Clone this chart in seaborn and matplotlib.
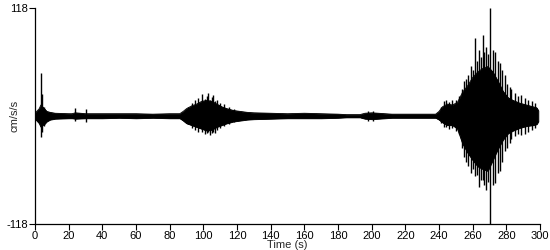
import matplotlib
matplotlib.use("Agg")
import matplotlib.pyplot as plt
import seaborn as sns
import numpy as np
import pandas as pd

# Envelope of the accelerogram (time s, upper / lower cm/s/s)
env_t = [0, 1, 2.5, 3.5, 4.5, 5.5, 7, 9, 12, 20, 22, 24, 30, 40, 50, 60, 70, 80, 86,
         88, 90, 93, 96, 99, 102, 105, 108, 111, 114, 118, 122, 126, 130, 140, 150,
         160, 170, 180, 185, 193, 196, 200, 204, 208, 212, 238, 240, 242, 245, 248,
         251, 254, 257, 260, 263, 266, 269, 272, 275, 278, 281, 284, 288, 292, 296,
         298, 299]
env_hi = [3, 5, 8, 12, 10, 8, 5, 4, 3, 2.5, 2.5, 3.5, 2.5, 2.5, 2.5, 2.5, 2, 2.5, 2.5,
          5, 8, 11, 13, 16, 17, 16, 13, 10, 8, 6, 5, 4, 3.5, 3, 2.5,
          3, 2.5, 2, 1.5, 1.5, 3, 3.5, 3, 2.5, 2, 2, 5, 10, 13, 12,
          15, 26, 33, 42, 48, 52, 54, 48, 38, 27, 20, 17, 14, 12, 10,
          9, 6]
env_lo = [-3, -5, -8, -12, -10, -9, -6, -4, -3, -2.5, -2.5, -3, -2.5, -2.5, -2, -2.5, -2, -2.5, -2.5,
          -5, -8, -10, -12, -14, -16, -15, -12, -10, -8, -6, -5, -4, -3.5, -3, -2.5,
          -2.5, -2.5, -2, -1.5, -1.5, -3, -3.5, -3, -2.5, -2, -2, -4, -7, -10, -10,
          -14, -30, -40, -48, -55, -58, -60, -48, -36, -26, -19, -16, -13, -11, -10,
          -9, -6]

# Individual spikes
spike_t = [3.6, 4.2, 5.5, 24, 30, 91, 93, 95, 97, 99, 101, 102, 103, 104, 105, 106, 107,
           108, 110, 112, 115, 118, 198, 201, 241, 243, 244, 246, 248, 250, 252, 253.5,
           255, 256, 257.5, 259, 260, 261.5, 262.5, 264, 265, 266, 267, 268, 269,
           270.5, 272, 273.5, 275, 276, 277.5, 279, 280.5, 282, 283, 285, 287, 289,
           291, 293, 295, 297]
spike_hi = [47, 24, 10, 9, 8, 10, 14, 17, 20, 24, 19, 22, 25, 18, 21, 23, 16,
            18, 14, 13, 10, 8, 6, 5, 10, 16, 17, 15, 18, 17, 22, 30,
            38, 40, 45, 55, 50, 85, 60, 72, 65, 88, 70, 75, 68,
            118, 72, 70, 60, 58, 50, 45, 35, 32, 30, 25, 22, 23,
            20, 18, 16, 14]
spike_lo = [-23, -17, -11, -5, -7, -9, -13, -15, -17, -18, -20, -19, -17, -21, -19, -18, -19,
            -15, -13, -11, -9, -7, -5, -5, -8, -12, -12, -14, -13, -16, -20, -35,
            -45, -50, -55, -62, -58, -66, -65, -78, -70, -70, -75, -81, -72,
            -118, -75, -73, -62, -60, -50, -38, -35, -30, -25, -22, -20, -21,
            -20, -17, -15, -13]

xticks = list(range(0, 301, 20))

sns.set_style("ticks")
plt.rcParams['font.family'] = ['Liberation Sans', 'DejaVu Sans']

fig = plt.figure(figsize=(5.5, 2.5), dpi=100)
ax = fig.add_axes([35/550, 1-224/250, 505/550, 216/250])

env = pd.DataFrame({"t": env_t, "hi": env_hi, "lo": env_lo})
ax.fill_between(env["t"], env["lo"], env["hi"], color="black", linewidth=0.6)
sns.lineplot(data=env, x="t", y="hi", ax=ax, color="black", linewidth=0.6)
sns.lineplot(data=env, x="t", y="lo", ax=ax, color="black", linewidth=0.6)
ax.vlines(spike_t, spike_lo, spike_hi, color="black", linewidth=1.0)

ax.set_xlim(0, 300)
ax.set_ylim(-118, 118)
ax.set_xticks(xticks)
ax.set_xticklabels([str(v) for v in xticks])
ax.set_yticks([-118, 118])
ax.set_yticklabels(["-118", "118"])
ax.tick_params(axis="both", labelsize=8, length=4, width=0.8, pad=1, colors="black")
ax.set_xlabel("Time (s)", fontsize=8, labelpad=-1)
ax.set_ylabel("cm/s/s", fontsize=8)
ax.yaxis.set_label_coords(-0.03, 0.5)
for s in ["left", "bottom"]:
    ax.spines[s].set_linewidth(0.9)
    ax.spines[s].set_color("black")
sns.despine(ax=ax)
ax.grid(False)

fig.savefig("out.png", dpi=100)
